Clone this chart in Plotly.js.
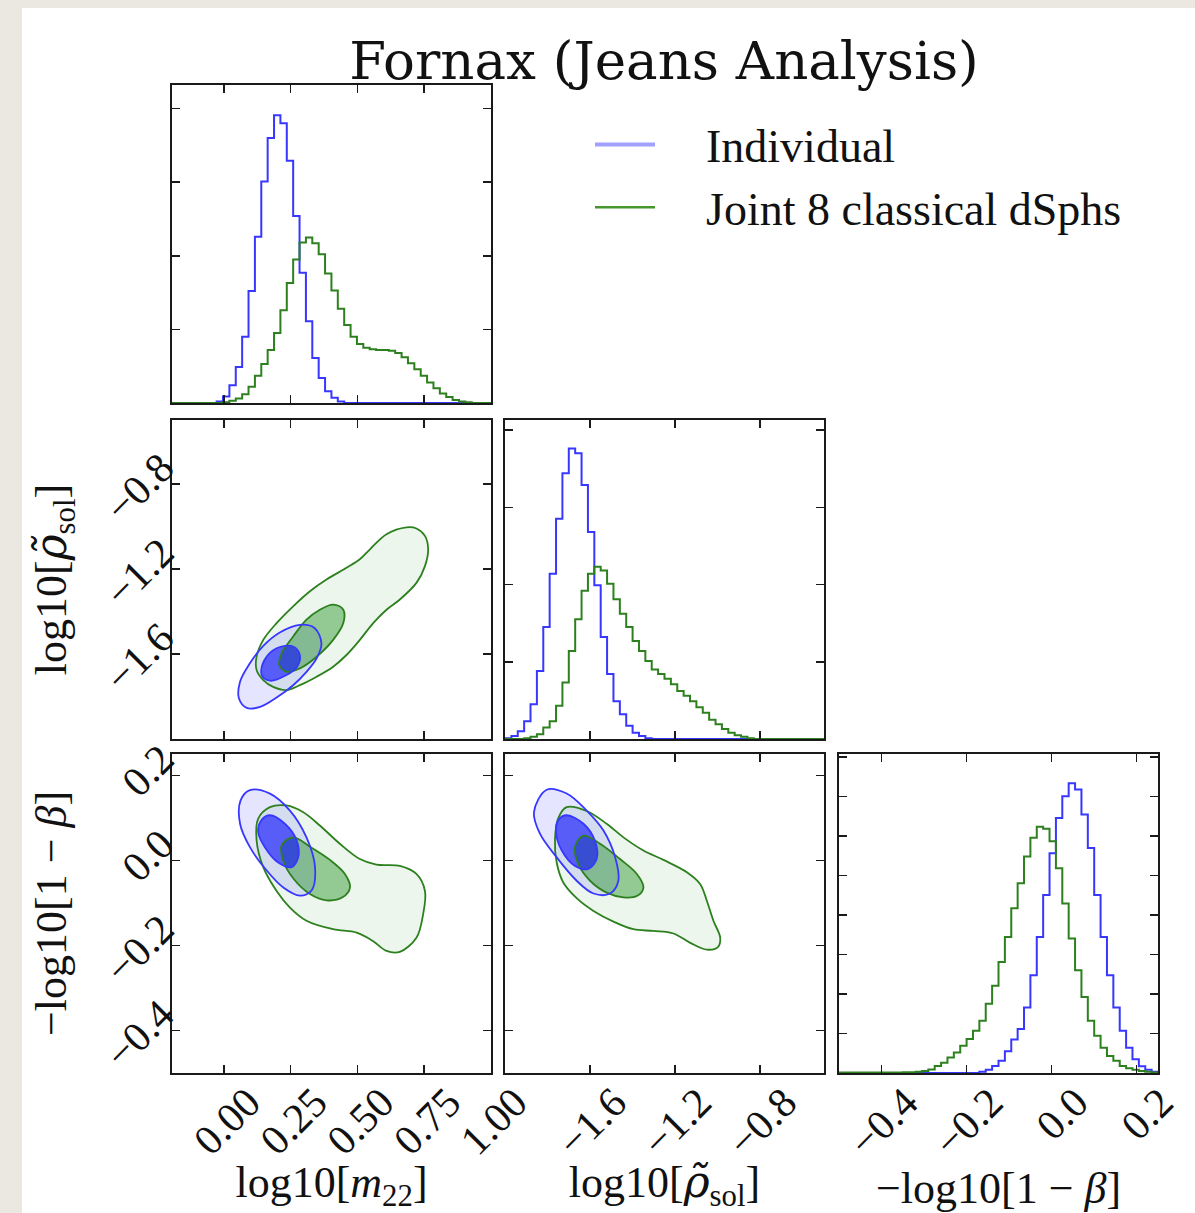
<!DOCTYPE html>
<html><head><meta charset="utf-8">
<script src="https://cdn.plot.ly/plotly-3.0.1.min.js"></script>
<style>html,body{margin:0;padding:0;background:#ebe8e2;}#plot{width:1195px;height:1213px;}</style>
</head><body><div id="plot"></div>
<script>
// ---------------- data ----------------
const m22Range = [-0.195, 1.0005];
const rhoRange = [-2.0, -0.5];
const betaRange = [-0.5, 0.25];
const nBins = 50;
const m22BinStart = -0.195, m22BinWidth = 0.0239;
const rhoBinStart = -2.0, rhoBinWidth = 0.03;
const betaBinStart = -0.5, betaBinWidth = 0.015;

const histM22Individual = [0,0,0,0,0,0,0,0.02,0.09,0.24,0.49,0.90,1.52,2.26,3.01,3.60,3.91,3.80,3.29,2.54,1.77,1.11,0.61,0.34,0.16,0.07,0.02,0,0,0,0,0,0,0,0,0,0,0,0,0,0,0,0,0,0,0,0,0,0,0];
const histM22Joint = [0,0,0,0,0,0,0,0,0.01,0.03,0.06,0.12,0.22,0.37,0.53,0.72,0.95,1.26,1.63,1.95,2.18,2.25,2.17,2.02,1.76,1.53,1.28,1.06,0.90,0.80,0.75,0.73,0.72,0.72,0.71,0.68,0.62,0.54,0.46,0.37,0.28,0.20,0.13,0.08,0.04,0.02,0.01,0,0,0];
const histRhoIndividual = [0.01,0.04,0.10,0.23,0.45,0.88,1.45,2.14,2.85,3.44,3.76,3.70,3.29,2.68,1.99,1.32,0.84,0.49,0.32,0.17,0.08,0.04,0.01,0,0,0,0,0,0,0,0,0,0,0,0,0,0,0,0,0,0,0,0,0,0,0,0,0,0,0];
const histRhoJoint = [0,0,0,0.01,0.03,0.06,0.15,0.23,0.43,0.73,1.14,1.55,1.92,2.14,2.23,2.18,2.01,1.81,1.62,1.45,1.27,1.14,1.01,0.90,0.84,0.78,0.71,0.62,0.56,0.49,0.41,0.34,0.25,0.19,0.13,0.08,0.05,0.03,0.01,0,0,0,0,0,0,0,0,0,0,0];
const histBetaIndividual = [0,0,0,0,0,0,0,0,0,0,0,0,0,0,0,0,0,0,0,0,0,0,0.03,0.08,0.18,0.31,0.55,0.85,1.11,1.66,2.47,3.44,4.50,5.56,6.45,7.00,7.33,7.17,6.54,5.69,4.50,3.44,2.47,1.66,1.07,0.64,0.35,0.17,0.08,0.03];
const histBetaJoint = [0.01,0.01,0.01,0.01,0.01,0.01,0.01,0.01,0.01,0.01,0.02,0.02,0.03,0.05,0.09,0.18,0.26,0.39,0.52,0.69,0.86,1.07,1.32,1.75,2.21,2.81,3.44,4.17,4.80,5.48,5.95,6.23,6.18,5.86,5.18,4.29,3.40,2.60,1.92,1.32,0.94,0.64,0.43,0.31,0.18,0.12,0.08,0.05,0.03,0.01];

// 2D credible contours (outer / inner)
const m22RhoJointOuterX = [0.684,0.609,0.547,0.509,0.459,0.384,0.322,0.259,0.197,0.147,0.122,0.122,0.147,0.184,0.234,0.284,0.347,0.409,0.459,0.509,0.559,0.609,0.659,0.721,0.753,0.765,0.753,0.721];
const m22RhoJointOuterY = [-1.005,-1.037,-1.108,-1.155,-1.195,-1.250,-1.305,-1.376,-1.455,-1.534,-1.613,-1.676,-1.723,-1.755,-1.770,-1.747,-1.707,-1.660,-1.605,-1.534,-1.455,-1.392,-1.344,-1.266,-1.187,-1.108,-1.045,-1.010];
const m22RhoJointInnerX = [0.409,0.447,0.447,0.409,0.347,0.284,0.234,0.207,0.216,0.259,0.309,0.359];
const m22RhoJointInnerY = [-1.368,-1.392,-1.455,-1.534,-1.613,-1.668,-1.684,-1.652,-1.597,-1.518,-1.439,-1.392];
const m22RhoIndOuterX = [0.284,0.340,0.365,0.347,0.309,0.259,0.197,0.135,0.085,0.056,0.060,0.097,0.147,0.209];
const m22RhoIndOuterY = [-1.463,-1.479,-1.550,-1.621,-1.684,-1.747,-1.805,-1.849,-1.854,-1.810,-1.731,-1.644,-1.562,-1.499];
const m22RhoIndInnerX = [0.259,0.284,0.274,0.234,0.172,0.141,0.150,0.197];
const m22RhoIndInnerY = [-1.565,-1.605,-1.660,-1.699,-1.726,-1.699,-1.632,-1.573];

const m22BetaIndOuterX = [0.097,0.172,0.247,0.309,0.341,0.328,0.284,0.222,0.160,0.097,0.060,0.062];
const m22BetaIndOuterY = [0.165,0.157,0.117,0.054,-0.016,-0.071,-0.083,-0.064,-0.024,0.031,0.086,0.141];
const m22BetaIndInnerX = [0.172,0.228,0.272,0.278,0.253,0.203,0.153,0.128,0.141];
const m22BetaIndInnerY = [0.106,0.086,0.047,0.007,-0.016,-0.005,0.031,0.066,0.095];
const m22BetaJointOuterX = [0.172,0.234,0.297,0.359,0.434,0.509,0.571,0.659,0.721,0.753,0.746,0.721,0.659,0.609,0.559,0.497,0.409,0.309,0.247,0.197,0.147,0.122,0.128];
const m22BetaJointOuterY = [0.125,0.129,0.113,0.082,0.039,0.003,-0.010,-0.013,-0.032,-0.072,-0.127,-0.182,-0.215,-0.213,-0.190,-0.170,-0.162,-0.142,-0.111,-0.072,-0.016,0.047,0.098];
const m22BetaJointInnerX = [0.259,0.322,0.397,0.453,0.472,0.444,0.384,0.322,0.259,0.222,0.216];
const m22BetaJointInnerY = [0.054,0.032,0.001,-0.032,-0.064,-0.087,-0.094,-0.079,-0.042,-0.001,0.035];

const rhoBetaIndOuterX = [-1.804,-1.710,-1.616,-1.537,-1.482,-1.467,-1.506,-1.584,-1.663,-1.757,-1.835,-1.864];
const rhoBetaIndOuterY = [0.166,0.157,0.117,0.070,0.007,-0.048,-0.078,-0.078,-0.048,0.007,0.062,0.113];
const rhoBetaIndInnerX = [-1.710,-1.631,-1.577,-1.569,-1.608,-1.671,-1.733,-1.760,-1.749];
const rhoBetaIndInnerY = [0.106,0.086,0.046,0.003,-0.020,-0.013,0.023,0.066,0.095];
const rhoBetaJointOuterX = [-1.710,-1.616,-1.522,-1.443,-1.349,-1.255,-1.145,-1.082,-1.051,-1.020,-0.988,-0.999,-1.051,-1.129,-1.208,-1.302,-1.396,-1.490,-1.584,-1.663,-1.726,-1.757,-1.765,-1.749];
const rhoBetaJointOuterY = [0.125,0.116,0.086,0.054,0.023,0.001,-0.028,-0.056,-0.095,-0.142,-0.182,-0.204,-0.210,-0.194,-0.172,-0.166,-0.162,-0.144,-0.119,-0.089,-0.052,-0.005,0.050,0.100];
const rhoBetaJointInnerX = [-1.631,-1.553,-1.459,-1.380,-1.349,-1.380,-1.443,-1.522,-1.600,-1.655,-1.671];
const rhoBetaJointInnerY = [0.058,0.039,0.003,-0.032,-0.064,-0.084,-0.087,-0.076,-0.048,-0.009,0.031];

const seriesNames = ['Individual', 'Joint 8 classical dSphs'];
const titleText = 'Fornax (Jeans Analysis)';
const labM22 = 'log10[<i>m</i><sub>22</sub>]';
const labRho = 'log10[<i><span style="font-family:DejaVu Serif">ρ̃</span></i><sub>sol</sub>]';
const labBeta = '−log10[1 − <i>β</i>]';
const m22Ticks = [0, 0.25, 0.5, 0.75, 1.0];
const m22TickText = ['0.00', '0.25', '0.50', '0.75', '1.00'];
const rhoTicks = [-1.6, -1.2, -0.8];
const rhoTickText = ['−1.6', '−1.2', '−0.8'];
const betaTicks = [-0.4, -0.2, 0.0, 0.2];
const betaTickText = ['−0.4', '−0.2', '0.0', '0.2'];

// ---------------- styling ----------------
const W = 1195, H = 1213;
const FONT = 'Liberation Serif';
const BLUE = 'rgb(55,55,255)';
const GREEN = 'rgb(45,128,30)';
const fx = p => p / W;
const fy = p => 1 - p / H;
const col = [[172, 491], [505, 824], [839, 1158]];
const row = [[85, 403], [420, 739], [754, 1073]];
const dX = c => [fx(col[c][0]), fx(col[c][1])];
const dY = r => [fy(row[r][1]), fy(row[r][0])];

function closeArr(a) { return a.concat([a[0]]); }
function stepTrace(start, width, vals, color, xa, ya) {
  const xs = [], ys = [];
  for (let i = 0; i < vals.length; i++) { xs.push(start + i * width); ys.push(vals[i]); }
  xs.push(start + vals.length * width); ys.push(vals[vals.length - 1]);
  return { type: 'scatter', mode: 'lines', x: xs, y: ys, xaxis: xa, yaxis: ya,
    line: { color: color, width: 2, shape: 'hv' }, showlegend: false, hoverinfo: 'skip' };
}
function fillTrace(xs, ys, fillcolor, xa, ya) {
  return { type: 'scatter', mode: 'lines', x: closeArr(xs), y: closeArr(ys), xaxis: xa, yaxis: ya,
    fill: 'toself', fillcolor: fillcolor, line: { width: 0, shape: 'spline', smoothing: 1 },
    showlegend: false, hoverinfo: 'skip' };
}
function lineTrace(xs, ys, color, xa, ya) {
  return { type: 'scatter', mode: 'lines', x: closeArr(xs), y: closeArr(ys), xaxis: xa, yaxis: ya,
    line: { color: color, width: 1.8, shape: 'spline', smoothing: 1 }, showlegend: false, hoverinfo: 'skip' };
}
function panel2D(set, xa, ya) {
  return [
    fillTrace(set.jo[0], set.jo[1], 'rgba(0,128,0,0.07)', xa, ya),
    fillTrace(set.io[0], set.io[1], 'rgba(0,0,255,0.10)', xa, ya),
    fillTrace(set.ji[0], set.ji[1], 'rgba(0,128,0,0.38)', xa, ya),
    fillTrace(set.ii[0], set.ii[1], 'rgba(0,0,255,0.58)', xa, ya),
    lineTrace(set.jo[0], set.jo[1], GREEN, xa, ya),
    lineTrace(set.ji[0], set.ji[1], GREEN, xa, ya),
    lineTrace(set.io[0], set.io[1], BLUE, xa, ya),
    lineTrace(set.ii[0], set.ii[1], BLUE, xa, ya)
  ];
}

const traces = [];
traces.push(stepTrace(m22BinStart, m22BinWidth, histM22Individual, BLUE, 'x', 'y'));
traces.push(stepTrace(m22BinStart, m22BinWidth, histM22Joint, GREEN, 'x', 'y'));
traces.push(...panel2D({ jo: [m22RhoJointOuterX, m22RhoJointOuterY], ji: [m22RhoJointInnerX, m22RhoJointInnerY],
  io: [m22RhoIndOuterX, m22RhoIndOuterY], ii: [m22RhoIndInnerX, m22RhoIndInnerY] }, 'x2', 'y2'));
traces.push(stepTrace(rhoBinStart, rhoBinWidth, histRhoIndividual, BLUE, 'x3', 'y3'));
traces.push(stepTrace(rhoBinStart, rhoBinWidth, histRhoJoint, GREEN, 'x3', 'y3'));
traces.push(...panel2D({ jo: [m22BetaJointOuterX, m22BetaJointOuterY], ji: [m22BetaJointInnerX, m22BetaJointInnerY],
  io: [m22BetaIndOuterX, m22BetaIndOuterY], ii: [m22BetaIndInnerX, m22BetaIndInnerY] }, 'x4', 'y4'));
traces.push(...panel2D({ jo: [rhoBetaJointOuterX, rhoBetaJointOuterY], ji: [rhoBetaJointInnerX, rhoBetaJointInnerY],
  io: [rhoBetaIndOuterX, rhoBetaIndOuterY], ii: [rhoBetaIndInnerX, rhoBetaIndInnerY] }, 'x5', 'y5'));
traces.push(stepTrace(betaBinStart, betaBinWidth, histBetaIndividual, BLUE, 'x6', 'y6'));
traces.push(stepTrace(betaBinStart, betaBinWidth, histBetaJoint, GREEN, 'x6', 'y6'));
// legend entries
const GAP = '\u00a0\u00a0\u00a0\u00a0';
traces.push({ type: 'scatter', mode: 'lines', x: [null], y: [null], xaxis: 'x', yaxis: 'y', name: GAP + seriesNames[0],
  line: { color: 'rgba(110,110,255,0.65)', width: 4 }, showlegend: true, hoverinfo: 'skip' });
traces.push({ type: 'scatter', mode: 'lines', x: [null], y: [null], xaxis: 'x', yaxis: 'y', name: GAP + seriesNames[1],
  line: { color: 'rgb(70,150,45)', width: 2.5 }, showlegend: true, hoverinfo: 'skip' });

const tickFont = { family: FONT, size: 42, color: '#111' };
const titleFont = { family: FONT, size: 44, color: '#111' };
function ax(extra) {
  return Object.assign({
    showline: true, linecolor: '#1a1a1a', linewidth: 2, mirror: 'ticks',
    ticks: 'inside', ticklen: 8, tickwidth: 1.5, tickcolor: '#1a1a1a',
    showgrid: false, zeroline: false, fixedrange: true, automargin: false,
    tickfont: tickFont, showticklabels: false
  }, extra);
}
const xLab = { showticklabels: true, tickangle: -45, ticklabelshift: 24, ticklabelstandoff: -14 };
const yLab = { showticklabels: true, tickangle: -45, ticklabelshift: -22 };

const layout = {
  width: W, height: H,
  margin: { l: 0, r: 0, t: 0, b: 0, pad: 0 },
  paper_bgcolor: '#ebe8e2', plot_bgcolor: 'rgba(0,0,0,0)',
  showlegend: true, hovermode: false,
  title: { text: titleText, x: fx(664), xanchor: 'center', y: fy(60), yanchor: 'middle', xref: 'paper', yref: 'paper',
    font: { family: 'DejaVu Serif', size: 53, color: '#111' } },
  legend: { x: fx(590), y: fy(108), xanchor: 'left', yanchor: 'top', bgcolor: 'rgba(0,0,0,0)',
    font: { family: FONT, size: 46, color: '#111' }, itemwidth: 60, tracegroupgap: 0 },
  shapes: [{ type: 'rect', xref: 'paper', yref: 'paper', x0: fx(22), x1: 1, y0: 0, y1: fy(8),
    fillcolor: '#ffffff', line: { width: 0 }, layer: 'below' }],
  xaxis: ax({ domain: dX(0), anchor: 'y', range: m22Range, tickvals: m22Ticks }),
  yaxis: ax({ domain: dY(0), anchor: 'x', range: [0, 4.32], tickvals: [0, 1, 2, 3, 4] }),
  xaxis2: ax({ domain: dX(0), anchor: 'y2', range: m22Range, tickvals: m22Ticks }),
  yaxis2: ax(Object.assign({ domain: dY(1), anchor: 'x2', range: rhoRange, tickvals: rhoTicks, ticktext: rhoTickText,
    title: { text: labRho, font: titleFont, standoff: 16 } }, yLab)),
  xaxis3: ax({ domain: dX(1), anchor: 'y3', range: rhoRange, tickvals: rhoTicks }),
  yaxis3: ax({ domain: dY(1), anchor: 'x3', range: [0, 4.13], tickvals: [0, 1, 2, 3, 4] }),
  xaxis4: ax(Object.assign({ domain: dX(0), anchor: 'y4', range: m22Range, tickvals: m22Ticks, ticktext: m22TickText,
    title: { text: labM22, font: titleFont, standoff: 16 } }, xLab)),
  yaxis4: ax(Object.assign({ domain: dY(2), anchor: 'x4', range: betaRange, tickvals: betaTicks, ticktext: betaTickText,
    title: { text: labBeta, font: titleFont, standoff: 16 } }, yLab)),
  xaxis5: ax(Object.assign({ domain: dX(1), anchor: 'y5', range: rhoRange, tickvals: rhoTicks, ticktext: rhoTickText,
    title: { text: labRho, font: titleFont, standoff: 16 } }, xLab)),
  yaxis5: ax({ domain: dY(2), anchor: 'x5', range: betaRange, tickvals: betaTicks }),
  xaxis6: ax(Object.assign({ domain: dX(2), anchor: 'y6', range: betaRange, tickvals: betaTicks, ticktext: betaTickText,
    title: { text: labBeta, font: titleFont, standoff: 16 } }, xLab)),
  yaxis6: ax({ domain: dY(2), anchor: 'x6', range: [0, 8.07], tickvals: [0, 1, 2, 3, 4, 5, 6, 7, 8] })
};

Plotly.newPlot('plot', traces, layout, { staticPlot: true, displayModeBar: false });
</script>
</body></html>
